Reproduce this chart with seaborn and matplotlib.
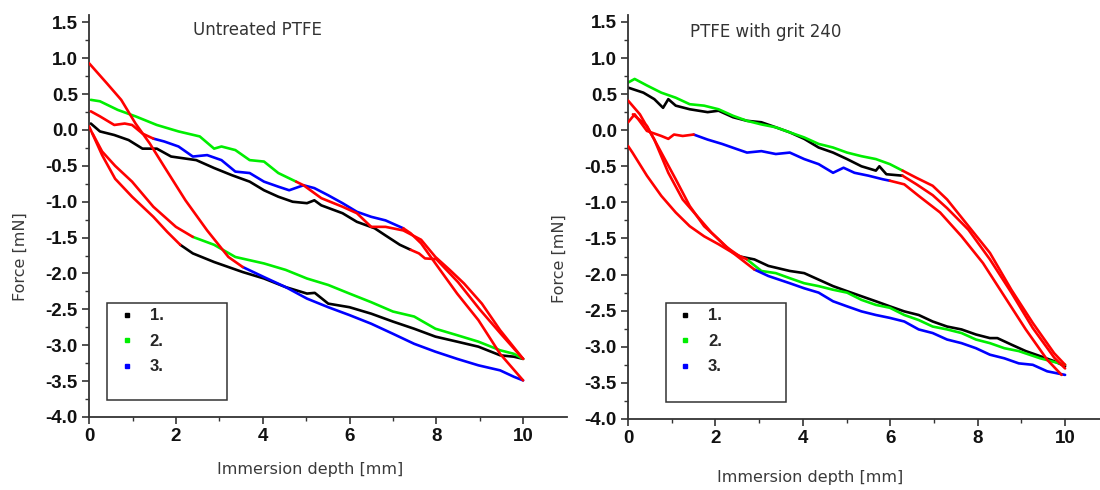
import matplotlib
matplotlib.use('Agg')
import matplotlib.pyplot as plt
from matplotlib.lines import Line2D
from matplotlib.patches import Rectangle
from matplotlib.ticker import FixedLocator, MultipleLocator
import pandas as pd
import seaborn as sns

# ---------------- data: Untreated PTFE (left panel) ----------------
# series 1 (black)
u1_low_red_x = [0.0, 0.3, 0.6, 0.99, 1.48, 1.8, 2.1]
u1_low_red_y = [0.05, -0.35, -0.68, -0.93, -1.21, -1.42, -1.6]
u1_low_x = [2.1, 2.39, 2.88, 3.54, 4.03, 4.53, 5.02, 5.2, 5.51, 6.0, 6.5, 7.0, 7.49, 7.98, 8.48, 8.97, 9.47, 9.79, 10.0]
u1_low_y = [-1.6, -1.72, -1.84, -1.98, -2.07, -2.19, -2.28, -2.27, -2.42, -2.47, -2.56, -2.67, -2.77, -2.88, -2.95, -3.02, -3.14, -3.16, -3.19]
u1_up_red_x = [10.0, 9.5, 9.0, 8.5, 8.0, 7.74, 7.6, 7.41]
u1_up_red_y = [-3.19, -2.85, -2.5, -2.12, -1.8, -1.79, -1.72, -1.67]
u1_up_x = [7.41, 7.16, 6.83, 6.58, 6.17, 5.84, 5.35, 5.19, 5.02, 4.69, 4.36, 4.03, 3.7, 3.29, 2.88, 2.47, 1.89, 1.56, 1.23, 0.91, 0.58, 0.25, 0.04]
u1_up_y = [-1.67, -1.6, -1.47, -1.37, -1.28, -1.16, -1.05, -0.98, -1.02, -1.0, -0.93, -0.84, -0.72, -0.63, -0.53, -0.42, -0.37, -0.26, -0.26, -0.14, -0.07, -0.02, 0.09]
# series 2 (green)
u2_low_red_x = [0.08, 0.3, 0.6, 0.99, 1.48, 2.0, 2.39]
u2_low_red_y = [-0.05, -0.3, -0.5, -0.72, -1.07, -1.35, -1.49]
u2_low_x = [2.39, 2.88, 3.37, 4.03, 4.53, 5.02, 5.51, 6.0, 6.5, 7.0, 7.49, 7.98, 8.48, 8.97, 9.47, 9.79, 10.0]
u2_low_y = [-1.49, -1.6, -1.77, -1.86, -1.95, -2.07, -2.16, -2.28, -2.4, -2.53, -2.6, -2.77, -2.86, -2.95, -3.07, -3.12, -3.19]
u2_up_red_x = [10.0, 9.47, 9.05, 8.64, 8.31, 7.98, 7.65, 7.24, 6.83, 6.5, 6.17, 5.84, 5.35, 4.94, 4.77]
u2_up_red_y = [-3.19, -2.79, -2.42, -2.14, -1.95, -1.77, -1.53, -1.4, -1.35, -1.35, -1.16, -1.07, -0.95, -0.77, -0.72]
u2_up_x = [4.77, 4.36, 4.03, 3.7, 3.37, 3.05, 2.88, 2.55, 2.06, 1.56, 1.07, 0.66, 0.25, 0.04]
u2_up_y = [-0.72, -0.6, -0.44, -0.42, -0.28, -0.23, -0.26, -0.09, -0.02, 0.07, 0.19, 0.28, 0.4, 0.42]
# series 3 (blue)
u3_low_red_x = [0.0, 0.41, 0.74, 1.07, 1.4, 1.73, 2.22, 2.72, 3.21, 3.54]
u3_low_red_y = [0.93, 0.65, 0.42, 0.09, -0.19, -0.51, -0.98, -1.4, -1.77, -1.91]
u3_low_x = [3.54, 4.03, 4.53, 5.02, 5.51, 6.0, 6.5, 7.0, 7.49, 7.98, 8.48, 8.97, 9.47, 9.79, 10.0]
u3_low_y = [-1.91, -2.05, -2.19, -2.35, -2.47, -2.58, -2.7, -2.84, -2.98, -3.09, -3.19, -3.28, -3.35, -3.44, -3.49]
u3_up_red_x = [10.0, 9.47, 8.97, 8.48, 7.98, 7.65, 7.41, 7.24]
u3_up_red_y = [-3.49, -3.12, -2.65, -2.28, -1.86, -1.58, -1.44, -1.37]
u3_up_x = [7.24, 6.83, 6.5, 6.17, 5.84, 5.51, 5.19, 4.94, 4.61, 4.36, 4.03, 3.7, 3.37, 3.05, 2.72, 2.39, 2.06, 1.73, 1.48]
u3_up_y = [-1.37, -1.26, -1.21, -1.14, -1.02, -0.91, -0.81, -0.77, -0.84, -0.79, -0.72, -0.6, -0.58, -0.42, -0.35, -0.37, -0.23, -0.16, -0.12]
u3_end_red_x = [1.48, 1.23, 0.99, 0.82, 0.58, 0.25, 0.04]
u3_end_red_y = [-0.12, -0.05, 0.07, 0.09, 0.07, 0.19, 0.26]

# ---------------- data: PTFE with grit 240 (right panel) ----------------
g1_low_red_x = [0.0, 0.27, 0.6, 0.92, 1.25, 1.58, 1.91, 2.23, 2.56]
g1_low_red_y = [0.41, 0.22, -0.13, -0.59, -0.96, -1.19, -1.42, -1.61, -1.75]
g1_low_x = [2.56, 2.89, 3.21, 3.7, 4.03, 4.36, 4.69, 5.01, 5.34, 5.67, 5.99, 6.32, 6.65, 6.97, 7.3, 7.63, 7.96, 8.28, 8.45, 8.77, 9.1, 9.43, 9.75, 10.0]
g1_low_y = [-1.75, -1.79, -1.88, -1.95, -1.98, -2.07, -2.16, -2.23, -2.3, -2.37, -2.44, -2.51, -2.56, -2.65, -2.72, -2.76, -2.83, -2.88, -2.88, -2.97, -3.06, -3.13, -3.2, -3.27]
g1_up_red_x = [10.0, 9.75, 9.26, 8.77, 8.28, 7.79, 7.3, 6.97, 6.6, 6.28]
g1_up_red_y = [-3.3, -3.15, -2.74, -2.25, -1.79, -1.38, -1.08, -0.9, -0.75, -0.63]
g1_up_x = [6.28, 5.91, 5.75, 5.67, 5.34, 5.01, 4.69, 4.36, 4.03, 3.7, 3.38, 3.05, 2.72, 2.4, 2.07, 1.82, 1.41, 1.09, 0.92, 0.8, 0.6, 0.35, 0.0]
g1_up_y = [-0.63, -0.61, -0.5, -0.56, -0.5, -0.4, -0.31, -0.24, -0.12, -0.03, 0.04, 0.11, 0.13, 0.18, 0.27, 0.25, 0.29, 0.34, 0.43, 0.31, 0.43, 0.52, 0.59]
g2_low_red_x = [0.11, 0.43, 0.76, 1.09, 1.41, 1.74, 2.07, 2.4, 2.72]
g2_low_red_y = [0.22, 0.06, -0.31, -0.68, -1.05, -1.33, -1.51, -1.7, -1.79]
g2_low_x = [2.72, 3.05, 3.38, 3.7, 4.03, 4.36, 4.69, 5.01, 5.34, 5.67, 5.99, 6.32, 6.65, 6.97, 7.3, 7.63, 7.96, 8.28, 8.61, 8.94, 9.43, 10.0]
g2_low_y = [-1.79, -1.95, -1.98, -2.05, -2.12, -2.16, -2.21, -2.25, -2.35, -2.42, -2.46, -2.56, -2.63, -2.72, -2.76, -2.81, -2.9, -2.95, -3.02, -3.06, -3.16, -3.25]
g2_up_red_x = [10.0, 9.75, 9.26, 8.77, 8.28, 7.79, 7.3, 6.97, 6.6, 6.28]
g2_up_red_y = [-3.25, -3.09, -2.67, -2.21, -1.7, -1.33, -0.96, -0.77, -0.66, -0.56]
g2_up_x = [6.28, 5.99, 5.67, 5.34, 5.01, 4.69, 4.36, 4.03, 3.7, 3.38, 3.05, 2.72, 2.4, 2.07, 1.74, 1.41, 1.09, 0.76, 0.43, 0.15, 0.0]
g2_up_y = [-0.56, -0.47, -0.4, -0.36, -0.31, -0.24, -0.19, -0.1, -0.03, 0.04, 0.08, 0.13, 0.2, 0.29, 0.34, 0.36, 0.45, 0.52, 0.62, 0.71, 0.66]
g3_low_red_x = [0.0, 0.1, 0.43, 0.76, 1.09, 1.41, 1.74, 2.07, 2.4, 2.89]
g3_low_red_y = [-0.22, -0.31, -0.63, -0.91, -1.14, -1.33, -1.47, -1.58, -1.7, -1.93]
g3_low_x = [2.89, 3.21, 3.7, 4.03, 4.36, 4.69, 5.01, 5.34, 5.67, 5.99, 6.32, 6.65, 6.97, 7.3, 7.63, 7.96, 8.28, 8.61, 8.94, 9.26, 9.59, 10.0]
g3_low_y = [-1.93, -2.02, -2.12, -2.19, -2.25, -2.37, -2.44, -2.51, -2.56, -2.6, -2.65, -2.76, -2.81, -2.9, -2.95, -3.02, -3.11, -3.16, -3.23, -3.25, -3.34, -3.39]
g3_up_red_x = [9.92, 9.59, 9.1, 8.61, 8.12, 7.63, 7.14, 6.65, 6.32, 5.99]
g3_up_red_y = [-3.39, -3.18, -2.76, -2.3, -1.84, -1.47, -1.14, -0.91, -0.75, -0.7]
g3_up_x = [5.99, 5.83, 5.5, 5.18, 4.93, 4.69, 4.36, 4.03, 3.7, 3.38, 3.05, 2.72, 2.48, 2.15, 1.82, 1.5]
g3_up_y = [-0.7, -0.68, -0.63, -0.59, -0.52, -0.59, -0.47, -0.4, -0.31, -0.33, -0.29, -0.31, -0.26, -0.19, -0.13, -0.06]
g3_end_red_x = [1.5, 1.25, 1.05, 0.92, 0.76, 0.43, 0.15, 0.0]
g3_end_red_y = [-0.06, -0.08, -0.06, -0.12, -0.08, -0.01, 0.22, 0.11]

panel_titles = ["Untreated PTFE", "PTFE with grit 240"]
series_labels = ["1.", "2.", "3."]
x_label = "Immersion depth [mm]"
y_label = "Force [mN]"
x_ticks = [0, 2, 4, 6, 8, 10]
y_ticks = [1.5, 1.0, 0.5, 0.0, -0.5, -1.0, -1.5, -2.0, -2.5, -3.0, -3.5, -4.0]

series_colors = {"1.": "#000000", "2.": "#00ee00", "3.": "#0000ff"}
red = "#ff0000"

segments = [
    (0, "1.", "c", u1_low_x, u1_low_y), (0, "1.", "r", u1_low_red_x, u1_low_red_y),
    (0, "1.", "c", u1_up_x, u1_up_y), (0, "1.", "r", u1_up_red_x, u1_up_red_y),
    (0, "2.", "c", u2_low_x, u2_low_y), (0, "2.", "r", u2_low_red_x, u2_low_red_y),
    (0, "2.", "c", u2_up_x, u2_up_y), (0, "2.", "r", u2_up_red_x, u2_up_red_y),
    (0, "3.", "c", u3_low_x, u3_low_y), (0, "3.", "r", u3_low_red_x, u3_low_red_y),
    (0, "3.", "c", u3_up_x, u3_up_y), (0, "3.", "r", u3_up_red_x, u3_up_red_y),
    (0, "3.", "r", u3_end_red_x, u3_end_red_y),
    (1, "1.", "c", g1_low_x, g1_low_y), (1, "1.", "r", g1_low_red_x, g1_low_red_y),
    (1, "1.", "c", g1_up_x, g1_up_y), (1, "1.", "r", g1_up_red_x, g1_up_red_y),
    (1, "2.", "c", g2_low_x, g2_low_y), (1, "2.", "r", g2_low_red_x, g2_low_red_y),
    (1, "2.", "c", g2_up_x, g2_up_y), (1, "2.", "r", g2_up_red_x, g2_up_red_y),
    (1, "3.", "c", g3_low_x, g3_low_y), (1, "3.", "r", g3_low_red_x, g3_low_red_y),
    (1, "3.", "c", g3_up_x, g3_up_y), (1, "3.", "r", g3_up_red_x, g3_up_red_y),
    (1, "3.", "r", g3_end_red_x, g3_end_red_y),
]

rows = []
for sid, (panel, ser, kind, xs, ys) in enumerate(segments):
    for i, (xv, yv) in enumerate(zip(xs, ys)):
        rows.append({"panel": panel, "seg": sid, "series": ser, "kind": kind,
                     "order": i, "x": xv, "y": yv})
df = pd.DataFrame(rows)

sns.set_theme(style="ticks")
plt.rcParams["font.family"] = ["DejaVu Sans"]

fig = plt.figure(figsize=(11, 4.9), dpi=100)
axes = [fig.add_axes([0.081, 0.149, 0.434, 0.820]),
        fig.add_axes([0.571, 0.145, 0.437, 0.825])]

spine_col = "#333333"
tick_font = {"family": ["Liberation Sans", "DejaVu Sans"], "weight": "bold", "size": 13.5}

title_pos = [(2.4, 1.40), (1.42, 1.36)]
ylabel_pos = [(-0.128, 0.40), (-0.127, 0.396)]
xlabel_pos = [(0.463, -0.112), (0.378, -0.126)]
box_rect = [(0.0377, 0.042, 0.251, 0.242), (0.079, 0.042, 0.249, 0.245)]
leg_anchor = [(0.048, 0.287), (0.088, 0.290)]

for p, ax in enumerate(axes):
    sub = df[df.panel == p]
    for sid, seg in sub.groupby("seg", sort=True):
        kind = seg["kind"].iloc[0]
        col = red if kind == "r" else series_colors[seg["series"].iloc[0]]
        sns.lineplot(data=seg.sort_values("order"), x="x", y="y", sort=False,
                     estimator=None, color=col, lw=1.9, ax=ax, legend=False,
                     zorder=3 if kind == "r" else 2)
    ax.set_xlim(0, 11)
    ax.set_ylim(-4.0, 1.6)
    sns.despine(ax=ax)
    for s in ["left", "bottom"]:
        ax.spines[s].set_color(spine_col)
        ax.spines[s].set_linewidth(1.3)
    ax.xaxis.set_major_locator(FixedLocator(x_ticks))
    ax.xaxis.set_minor_locator(FixedLocator([1, 3, 5, 7, 9]))
    ax.yaxis.set_major_locator(FixedLocator(y_ticks))
    ax.yaxis.set_minor_locator(MultipleLocator(0.25))
    ax.set_xticklabels([str(t) for t in x_ticks], fontdict=tick_font)
    ax.set_yticklabels([f"{t:.1f}" for t in y_ticks], fontdict=tick_font)
    ax.tick_params(which="major", direction="out", length=5, width=1.2,
                   color=spine_col, pad=3, labelcolor="#111111")
    ax.tick_params(which="minor", direction="out", length=3, width=1.0, color=spine_col)
    ax.set_xlabel(x_label, fontsize=11.5, color="#3a3a3a")
    ax.set_ylabel(y_label, fontsize=11.5, color="#3a3a3a")
    ax.xaxis.set_label_coords(*xlabel_pos[p])
    ax.yaxis.set_label_coords(*ylabel_pos[p])
    ax.text(title_pos[p][0], title_pos[p][1], panel_titles[p], fontsize=12,
            color="#333333", ha="left", va="center")
    ax.grid(False)

    bx, by, bw, bh = box_rect[p]
    ax.add_patch(Rectangle((bx, by), bw, bh, transform=ax.transAxes, fill=True,
                           facecolor="white", edgecolor="#333333", lw=1.1, zorder=5))
    handles = [Line2D([], [], ls="", marker="s", markersize=3.5, color=series_colors[s])
               for s in series_labels]
    leg = ax.legend(handles, series_labels, loc="upper left",
                    bbox_to_anchor=leg_anchor[p], bbox_transform=ax.transAxes,
                    frameon=False, handlelength=1.0, handletextpad=0.85,
                    labelspacing=0.63, borderaxespad=0.0,
                    prop={"family": ["Liberation Sans", "DejaVu Sans"],
                          "weight": "bold", "size": 12})
    leg.set_zorder(6)

fig.savefig("out.png", dpi=100)
